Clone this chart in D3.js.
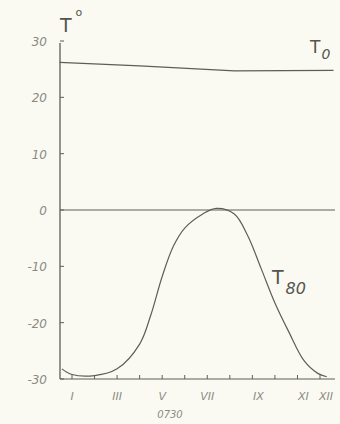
<!DOCTYPE html>
<html>
<head>
<meta charset="utf-8">
<script src="https://cdn.jsdelivr.net/npm/d3@7"></script>
<style>
  body { margin: 0; background: #fafaf2; }
  svg { display: block; }
  .lbl { font-family: "DejaVu Sans", sans-serif; font-style: italic; fill: #8a8a84; }
</style>
</head>
<body>
<div class="chart"></div>
<script>
    // Data (month index, temperature in degrees)
    const monthLabels = ['I', 'III', 'V', 'VII', 'IX', 'XI', 'XII'];
    const monthTicks = [1, 3, 5, 7, 9, 11, 12];
    const yTicks = [30, 20, 10, 0, -10, -20, -30];

    const t0Months = [0.45, 4, 8.2, 12.6];
    const t0Values = [26.2, 25.6, 24.7, 24.8];

    const t80Months = [0.55, 1, 2, 3, 4, 4.5, 5, 5.5, 6, 6.8, 7.4, 8.2, 8.8, 9.4, 10, 10.6, 11.3, 11.9, 12.3];
    const t80Values = [-28.2, -29.2, -29.4, -28.2, -23.8, -18.6, -11.8, -6.4, -3.2, -0.7, 0.3, -0.7, -4.6, -10.5, -16.5, -21.5, -26.8, -29, -29.6];

    const width = 340;
    const height = 424;
    const axisX = 60;
    const axisRight = 335;

    const xScale = d3.scaleLinear()
        .domain([1, 12])
        .range([72, 320]);

    const yScale = d3.scaleLinear()
        .domain([-30, 30])
        .range([379, 41]);

    const svg = d3.select('.chart').append('svg')
        .attr('width', width)
        .attr('height', height);

    const ink = '#5e5e58';

    // y axis with small ticks to the right
    svg.append('line')
        .attr('x1', axisX).attr('x2', axisX)
        .attr('y1', yScale(30) + 2).attr('y2', yScale(-30))
        .attr('stroke', ink).attr('stroke-width', 1.3);

    svg.selectAll('.ytick')
      .data(yTicks)
      .enter().append('line')
        .attr('x1', axisX).attr('x2', axisX + 4)
        .attr('y1', d => yScale(d)).attr('y2', d => yScale(d))
        .attr('stroke', ink).attr('stroke-width', 1);

    svg.selectAll('.ylab')
      .data(yTicks)
      .enter().append('text')
        .attr('class', 'lbl')
        .attr('x', 47)
        .attr('y', d => yScale(d) + 5)
        .attr('text-anchor', 'end')
        .attr('font-size', 12)
        .text(d => d < 0 ? '-' + Math.abs(d) : d);

    // x axis (the -30 line) with month ticks
    svg.append('line')
        .attr('x1', axisX).attr('x2', axisRight)
        .attr('y1', yScale(-30)).attr('y2', yScale(-30))
        .attr('stroke', ink).attr('stroke-width', 1.2);

    svg.selectAll('.xtick')
      .data(d3.range(1, 13))
      .enter().append('line')
        .attr('x1', d => xScale(d)).attr('x2', d => xScale(d))
        .attr('y1', yScale(-30)).attr('y2', yScale(-30) - 4)
        .attr('stroke', ink).attr('stroke-width', 1);

    svg.selectAll('.xlab')
      .data(monthLabels)
      .enter().append('text')
        .attr('class', 'lbl')
        .attr('x', (d, i) => xScale(monthTicks[i]) + (monthTicks[i] > 8 ? 6 : 0))
        .attr('y', 400)
        .attr('text-anchor', 'middle')
        .attr('font-size', 11)
        .text(d => d);

    svg.append('text')
        .attr('class', 'lbl')
        .attr('x', 170).attr('y', 418)
        .attr('text-anchor', 'middle')
        .attr('font-size', 10)
        .text('0730');

    // zero line
    svg.append('line')
        .attr('x1', axisX).attr('x2', axisRight)
        .attr('y1', yScale(0)).attr('y2', yScale(0))
        .attr('stroke', ink).attr('stroke-width', 1.1);

    const line = d3.line()
        .x(d => xScale(d[0]))
        .y(d => yScale(d[1]));

    svg.append('path')
        .datum(d3.zip(t0Months, t0Values))
        .attr('d', line.curve(d3.curveLinear))
        .attr('fill', 'none')
        .attr('stroke', ink).attr('stroke-width', 1.2);

    svg.append('path')
        .datum(d3.zip(t80Months, t80Values))
        .attr('d', line.curve(d3.curveCatmullRom.alpha(0.5)))
        .attr('fill', 'none')
        .attr('stroke', ink).attr('stroke-width', 1.2);

    // titles
    const title = svg.append('text')
        .attr('x', 60).attr('y', 32)
        .attr('font-family', 'DejaVu Sans, sans-serif')
        .attr('font-size', 19)
        .attr('fill', '#55554f');
    title.append('tspan').text('T');
    title.append('tspan').attr('font-size', 11).attr('dx', 4).attr('dy', -16).text('o');

    const t0 = svg.append('text')
        .attr('x', 310).attr('y', 53)
        .attr('font-family', 'DejaVu Sans, sans-serif')
        .attr('font-size', 17)
        .attr('fill', '#55554f');
    t0.append('tspan').text('T');
    t0.append('tspan').attr('font-size', 14).attr('font-style', 'italic').attr('dx', 1).attr('dy', 6).text('0');

    const t80 = svg.append('text')
        .attr('x', 272).attr('y', 284)
        .attr('font-family', 'DejaVu Sans, sans-serif')
        .attr('font-size', 19)
        .attr('fill', '#55554f');
    t80.append('tspan').text('T');
    t80.append('tspan').attr('font-size', 16).attr('font-style', 'italic').attr('dx', 2).attr('dy', 10).text('80');
</script>
</body>
</html>
